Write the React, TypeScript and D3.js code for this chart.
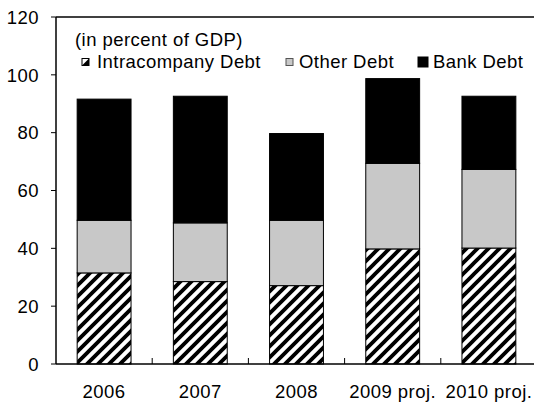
import React, { useEffect, useRef } from "react";
import * as d3 from "d3";

const categories = ["2006", "2007", "2008", "2009 proj.", "2010 proj."];
const intracompany = [31.5, 28.5, 27.1, 39.8, 40.1];
const otherDebt = [18.2, 20.3, 22.6, 29.6, 27.2];
const bankDebt = [41.9, 43.8, 30.0, 29.3, 25.3];
const seriesNames = ["Intracompany Debt", "Other Debt", "Bank Debt"];
const yTicks = [0, 20, 40, 60, 80, 100, 120];

const W = 534;
const H = 407;
const M = { left: 56, right: -3, top: 17, bottom: 43 };
const FONT = "'Liberation Sans', Arial, sans-serif";
const FS = 18.5;
const LS = 0.45;

export default function App() {
  const ref = useRef<SVGSVGElement>(null);

  useEffect(() => {
    const svg = d3.select(ref.current);
    svg.selectAll("*").remove();

    const defs = svg.append("defs");
    const pat = defs
      .append("pattern")
      .attr("id", "hatch")
      .attr("patternUnits", "userSpaceOnUse")
      .attr("width", 11)
      .attr("height", 11);
    pat.append("rect").attr("width", 11).attr("height", 11).attr("fill", "#fff");
    pat
      .append("path")
      .attr("d", "M-2.75,2.75L2.75,-2.75M0,11L11,0M8.25,13.75L13.75,8.25")
      .attr("stroke", "#000")
      .attr("stroke-width", 3.8);

    const x = d3
      .scaleBand<string>()
      .domain(categories)
      .range([M.left, W - M.right])
      .paddingInner(0.44)
      .paddingOuter(0.22);
    const band = d3.scaleBand<string>().domain(categories).range([M.left, W - M.right]);
    const y = d3.scaleLinear().domain([0, 120]).range([H - M.bottom, M.top]);

    const data = categories.map((c, i) => ({
      cat: c,
      intra: intracompany[i],
      other: otherDebt[i],
      bank: bankDebt[i],
    }));
    const stack = d3.stack<any>().keys(["intra", "other", "bank"])(data);
    const fills = ["url(#hatch)", "#c8c8c8", "#000"];

    stack.forEach((layer, li) => {
      svg
        .append("g")
        .selectAll("rect")
        .data(layer)
        .join("rect")
        .attr("x", (d: any) => x(d.data.cat)!)
        .attr("width", x.bandwidth())
        .attr("y", (d: any) => y(d[1]))
        .attr("height", (d: any) => y(d[0]) - y(d[1]))
        .attr("fill", fills[li])
        .attr("stroke", "#000")
        .attr("stroke-width", 1);
    });

    // frame: top line, left axis, bottom axis
    const g = svg.append("g").attr("stroke", "#000").attr("stroke-width", 1.5);
    g.append("line")
      .attr("x1", M.left).attr("x2", W)
      .attr("y1", y(120)).attr("y2", y(120));
    g.append("line")
      .attr("x1", M.left).attr("x2", M.left)
      .attr("y1", y(120)).attr("y2", y(0));
    g.append("line")
      .attr("x1", M.left).attr("x2", W)
      .attr("y1", y(0)).attr("y2", y(0));

    // y ticks
    svg
      .append("g")
      .selectAll("line")
      .data(yTicks)
      .join("line")
      .attr("x1", M.left - 5)
      .attr("x2", M.left)
      .attr("y1", (d) => y(d))
      .attr("y2", (d) => y(d))
      .attr("stroke", "#000")
      .attr("stroke-width", 1);
    svg
      .append("g")
      .selectAll("text")
      .data(yTicks)
      .join("text")
      .attr("x", 39)
      .attr("y", (d) => y(d) + 6.7)
      .attr("text-anchor", "end")
      .attr("font-family", FONT)
      .attr("font-size", FS)
      .attr("letter-spacing", LS)
      .text((d) => d);

    // x category ticks (inward)
    svg
      .append("g")
      .selectAll("line")
      .data(categories.slice(1))
      .join("line")
      .attr("x1", (d) => band(d)!)
      .attr("x2", (d) => band(d)!)
      .attr("y1", y(0))
      .attr("y2", y(0) - 6)
      .attr("stroke", "#000")
      .attr("stroke-width", 1);

    svg
      .append("g")
      .selectAll("text")
      .data(categories)
      .join("text")
      .attr("x", (d) => band(d)! + band.bandwidth() / 2)
      .attr("y", 398)
      .attr("text-anchor", "middle")
      .attr("font-family", FONT)
      .attr("font-size", FS)
      .attr("letter-spacing", LS)
      .text((d) => d);

    // subtitle
    svg
      .append("text")
      .attr("x", 75)
      .attr("y", 46)
      .attr("font-family", FONT)
      .attr("font-size", FS)
      .attr("letter-spacing", LS)
      .text("(in percent of GDP)");

    // legend
    const iconX = [82, 286, 418];
    const iconS = [7, 7, 10];
    const textX = [97, 299, 433];
    const leg = svg.append("g");
    seriesNames.forEach((name, i) => {
      const lx = iconX[i];
      const s = iconS[i];
      const ly = 62 - s / 2;
      if (i === 0) {
        leg.append("rect").attr("x", lx).attr("y", ly).attr("width", s).attr("height", s)
          .attr("fill", "#fff").attr("stroke", "#000").attr("stroke-width", 1);
        leg.append("path").attr("d", `M${lx},${ly + s}L${lx + s},${ly}L${lx + s},${ly + s}Z`).attr("fill", "#000");
      } else {
        leg.append("rect").attr("x", lx).attr("y", ly).attr("width", s).attr("height", s)
          .attr("fill", i === 1 ? "#c8c8c8" : "#000").attr("stroke", i === 1 ? "#555" : "#000")
          .attr("stroke-width", 1);
      }
      leg.append("text")
        .attr("x", textX[i])
        .attr("y", 67.5)
        .attr("font-family", FONT)
        .attr("font-size", FS)
        .attr("letter-spacing", LS)
        .text(name);
    });
  }, []);

  return (
    <svg
      ref={ref}
      width={W}
      height={H}
      style={{ position: "absolute", left: 0, top: 0, background: "#fff" }}
    />
  );
}
